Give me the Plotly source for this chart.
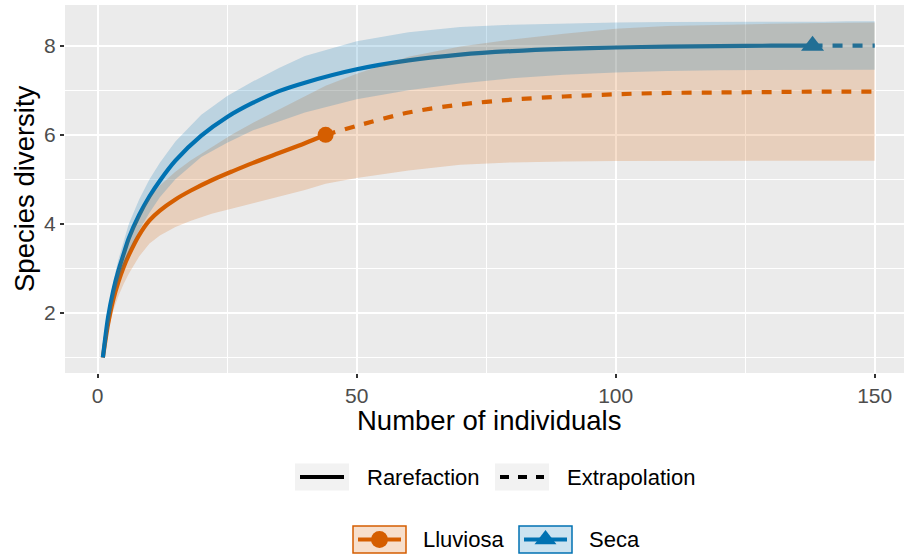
import plotly.graph_objects as go

# ---------------- data ----------------
ll_rare_x = [1, 2, 3, 4, 5, 6, 8, 10, 12, 15, 18, 22, 26, 30, 35, 40, 44]
ll_rare_y = [1.0, 1.75, 2.3, 2.7, 3.03, 3.3, 3.75, 4.08, 4.3, 4.55, 4.75, 4.98, 5.18, 5.37, 5.59, 5.81, 6.0]
ll_rare_hi = [1.0, 1.9, 2.55, 3.02, 3.41, 3.72, 4.23, 4.6, 4.86, 5.17, 5.43, 5.73, 6.01, 6.27, 6.57, 6.86, 7.1]
ll_rare_lo = [1.0, 1.6, 2.05, 2.38, 2.65, 2.88, 3.27, 3.56, 3.74, 3.93, 4.07, 4.23, 4.35, 4.47, 4.61, 4.76, 4.9]

ll_ext_x = [44, 50, 60, 70, 80, 90, 100, 110, 120, 130, 140, 150]
ll_ext_y = [6.0, 6.2, 6.5, 6.68, 6.79, 6.86, 6.91, 6.94, 6.95, 6.96, 6.97, 6.97]
ll_ext_hi = [7.1, 7.37, 7.75, 7.98, 8.14, 8.27, 8.38, 8.44, 8.47, 8.49, 8.51, 8.52]
ll_ext_lo = [4.9, 5.03, 5.2, 5.33, 5.38, 5.4, 5.41, 5.42, 5.42, 5.42, 5.42, 5.42]

se_rare_x = [1, 2, 3, 4, 5, 6, 8, 10, 12, 15, 20, 25, 30, 35, 40, 50, 60, 70, 80, 90, 100, 110, 120, 130, 138]
se_rare_y = [1.0, 1.9, 2.5, 2.95, 3.32, 3.68, 4.2, 4.62, 4.97, 5.42, 5.98, 6.4, 6.72, 6.98, 7.17, 7.47, 7.67, 7.8, 7.88, 7.93, 7.96, 7.98, 7.99, 8.0, 8.0]
se_rare_hi = [1.0, 2.0, 2.7, 3.2, 3.6, 4.0, 4.55, 5.0, 5.37, 5.85, 6.45, 6.87, 7.2, 7.5, 7.77, 8.1, 8.3, 8.42, 8.47, 8.5, 8.52, 8.53, 8.53, 8.54, 8.54]
se_rare_lo = [1.0, 1.8, 2.3, 2.7, 3.02, 3.35, 3.85, 4.25, 4.6, 5.0, 5.5, 5.82, 6.1, 6.3, 6.5, 6.8, 7.0, 7.15, 7.27, 7.35, 7.4, 7.43, 7.45, 7.46, 7.46]

se_ext_x = [138, 140, 145, 150]
se_ext_y = [8.0, 8.0, 8.0, 8.0]
se_ext_hi = [8.54, 8.54, 8.55, 8.55]
se_ext_lo = [7.46, 7.46, 7.46, 7.46]

obs_x = [44, 138]
obs_y = [6, 8]

sites = ["Lluviosa", "Seca"]
methods = ["Rarefaction", "Extrapolation"]
x_ticks = [0, 50, 100, 150]
y_ticks = [2, 4, 6, 8]

ORANGE = "#D55E00"
BLUE = "#0072B2"
FONT = "Liberation Sans, Arial, sans-serif"

W, H = 904, 556
# panel in pixels
PL, PR, PT, PB = 65, 904, 5, 373

fig = go.Figure()

# ---------- lines ----------
LW = 4.2
fig.add_trace(go.Scatter(x=ll_rare_x, y=ll_rare_y, mode="lines",
                         line=dict(color=ORANGE, width=LW, shape="spline", smoothing=0.8),
                         xaxis="x", yaxis="y"))
fig.add_trace(go.Scatter(x=ll_ext_x, y=ll_ext_y, mode="lines",
                         line=dict(color=ORANGE, width=LW, dash="10px,10px", shape="spline", smoothing=0.8),
                         xaxis="x", yaxis="y"))
fig.add_trace(go.Scatter(x=se_rare_x, y=se_rare_y, mode="lines",
                         line=dict(color=BLUE, width=LW, shape="spline", smoothing=0.8),
                         xaxis="x", yaxis="y"))
fig.add_trace(go.Scatter(x=se_ext_x, y=se_ext_y, mode="lines",
                         line=dict(color=BLUE, width=LW, dash="10px,10px"), xaxis="x", yaxis="y"))
fig.add_trace(go.Scatter(x=obs_x[:1], y=obs_y[:1], mode="markers",
                         marker=dict(color=ORANGE, size=16, symbol="circle", line=dict(width=0)),
                         xaxis="x", yaxis="y"))
fig.add_trace(go.Scatter(x=obs_x[1:], y=obs_y[1:], mode="markers",
                         marker=dict(color=BLUE, size=20, symbol="triangle-up", line=dict(width=0)),
                         xaxis="x", yaxis="y"))

# ---------- ribbons (drawn on top, alpha 0.2) ----------
ll_x = ll_rare_x + ll_ext_x[1:]
ll_hi = ll_rare_hi + ll_ext_hi[1:]
ll_lo = ll_rare_lo + ll_ext_lo[1:]
fig.add_trace(go.Scatter(x=ll_x + ll_x[::-1], y=ll_hi + ll_lo[::-1], mode="lines",
                         fill="toself", fillcolor="rgba(213,94,0,0.2)",
                         line=dict(width=0), xaxis="x", yaxis="y"))
se_x = se_rare_x + se_ext_x[1:]
se_hi = se_rare_hi + se_ext_hi[1:]
se_lo = se_rare_lo + se_ext_lo[1:]
fig.add_trace(go.Scatter(x=se_x + se_x[::-1], y=se_hi + se_lo[::-1], mode="lines",
                         fill="toself", fillcolor="rgba(0,114,178,0.2)",
                         line=dict(width=0), xaxis="x", yaxis="y"))

# ---------- legend (drawn on an invisible pixel-coordinate overlay) ----------
def key_line(x0, x1, y, color, dash=None):
    fig.add_trace(go.Scatter(x=[x0, x1], y=[y, y], mode="lines",
                             line=dict(color=color, width=LW, dash=dash),
                             xaxis="x2", yaxis="y2"))

shapes = []
# panel background
shapes.append(dict(type="rect", xref="x domain", yref="y domain", x0=0, x1=1, y0=0, y1=1,
                   fillcolor="#EBEBEB", line=dict(width=0), layer="below"))

# row 1: method legend
r1 = 477
for bx0, label, dash in [(295, methods[0], None), (495, methods[1], "9px,9px")]:
    shapes.append(dict(type="rect", xref="x2", yref="y2", x0=bx0, x1=bx0 + 54, y0=r1 - 13.5, y1=r1 + 13.5,
                       fillcolor="#F2F2F2", line=dict(width=0), layer="below"))
    key_line(bx0 + 5, bx0 + 49, r1, "black", dash)

# row 2: site legend
r2 = 539.5
for bx0, color, fill, sym, size in [(353, ORANGE, "rgba(213,94,0,0.2)", "circle", 17),
                                    (519, BLUE, "rgba(0,114,178,0.2)", "triangle-up", 19)]:
    shapes.append(dict(type="rect", xref="x2", yref="y2", x0=bx0, x1=bx0 + 53, y0=r2 - 13.5, y1=r2 + 13.5,
                       fillcolor=fill, line=dict(width=1.5, color=color), layer="below"))
    key_line(bx0 + 5, bx0 + 48, r2, color)
    fig.add_trace(go.Scatter(x=[bx0 + 26.5], y=[r2], mode="markers",
                             marker=dict(color=color, size=size, symbol=sym, line=dict(width=0)),
                             xaxis="x2", yaxis="y2"))

annotations = [
    dict(text=methods[0], x=365, y=r1, xref="x2", yref="y2", xanchor="left", yanchor="middle",
         showarrow=False, font=dict(size=22, color="black", family=FONT)),
    dict(text=methods[1], x=565, y=r1, xref="x2", yref="y2", xanchor="left", yanchor="middle",
         showarrow=False, font=dict(size=22, color="black", family=FONT)),
    dict(text=sites[0], x=421, y=r2, xref="x2", yref="y2", xanchor="left", yanchor="middle",
         showarrow=False, font=dict(size=22, color="black", family=FONT)),
    dict(text=sites[1], x=587, y=r2, xref="x2", yref="y2", xanchor="left", yanchor="middle",
         showarrow=False, font=dict(size=22, color="black", family=FONT)),
    dict(text="Number of individuals", x=489, y=420, xref="x2", yref="y2", xanchor="center",
         yanchor="middle", showarrow=False, font=dict(size=27.5, color="black", family=FONT)),
    dict(text="Species diversity", x=24, y=189, xref="x2", yref="y2", xanchor="center",
         yanchor="middle", textangle=-90, showarrow=False,
         font=dict(size=27.5, color="black", family=FONT)),
]

# axis ranges mapped from pixel positions of the panel
px_per_x = 5.18
x0_px = 97.7
px_per_y = 44.55
y2_px = 313.0
xr = [(PL - x0_px) / px_per_x, (PR - x0_px) / px_per_x]
yr = [2 + (y2_px - PB) / px_per_y, 2 + (y2_px - PT) / px_per_y]

fig.update_layout(
    width=W, height=H,
    margin=dict(l=0, r=0, t=0, b=0),
    paper_bgcolor="white", plot_bgcolor="rgba(0,0,0,0)",
    showlegend=False,
    font=dict(family=FONT),
    xaxis=dict(domain=[PL / W, PR / W], anchor="y", range=xr,
               tickmode="array", tickvals=x_ticks, ticktext=[str(v) for v in x_ticks],
               showgrid=True, gridcolor="white", gridwidth=2,
               minor=dict(dtick=25, tick0=0, showgrid=True, gridcolor="white", gridwidth=1, ticks=""),
               ticks="outside", ticklen=4, tickwidth=1.5, tickcolor="#333333",
               tickfont=dict(size=21, color="#4D4D4D", family=FONT),
               zeroline=False, showline=False, fixedrange=True),
    yaxis=dict(domain=[(H - PB) / H, (H - PT) / H], anchor="x", range=yr,
               tickmode="array", tickvals=y_ticks, ticktext=[str(v) for v in y_ticks],
               showgrid=True, gridcolor="white", gridwidth=2,
               minor=dict(dtick=1, tick0=0, showgrid=True, gridcolor="white", gridwidth=1, ticks=""),
               ticks="outside", ticklen=4, tickwidth=1.5, tickcolor="#333333",
               tickfont=dict(size=21, color="#4D4D4D", family=FONT),
               zeroline=False, showline=False, fixedrange=True),
    xaxis2=dict(domain=[0, 1], anchor="y2", range=[0, W], visible=False, fixedrange=True),
    yaxis2=dict(domain=[0, 1], anchor="x2", range=[H, 0], visible=False, fixedrange=True),
    shapes=shapes,
    annotations=annotations,
)

fig.write_html("out.html", config={"displayModeBar": False},
               post_script="document.body.style.margin='0';document.body.style.overflow='hidden';")
